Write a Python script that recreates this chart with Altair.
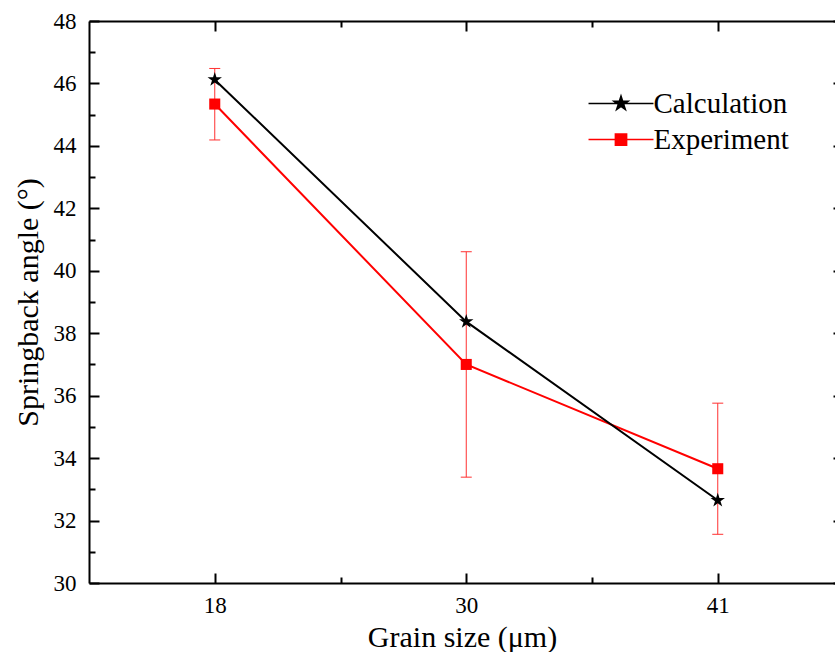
import altair as alt
import pandas as pd

# ---- data ----
grain_labels = ["18", "30", "41"]
positions = [1, 2, 3]
calculation = [46.12, 38.37, 32.65]
experiment = [45.34, 37.00, 33.66]
exp_low = [44.19, 33.39, 31.56]
exp_high = [46.48, 40.61, 35.76]
series_names = ["Calculation", "Experiment"]
series_colors = ["#000000", "#ff0000"]

y_major = [30, 32, 34, 36, 38, 40, 42, 44, 46, 48]
y_minor = [31, 33, 35, 37, 39, 41, 43, 45, 47]
x_minor = [1.5, 2.5]

df = pd.DataFrame({
    "pos": positions,
    "grain": grain_labels,
    "calc": calculation,
    "exp": experiment,
    "low": exp_low,
    "high": exp_high,
})
legend_df = pd.DataFrame({"series": series_names})

W, H = 746, 562
STEP = 251.5
xs = alt.Scale(domain=[0.5, 0.5 + W / STEP], nice=False, zero=False)
ys = alt.Scale(domain=[30, 48], nice=False, zero=False)

label_expr = " : ".join(
    f"datum.value == {p} ? '{g}'" for p, g in zip(positions, grain_labels)
) + " : ''"

FONT = "Liberation Serif"

STAR = ("M0,-1L0.2245,-0.309L0.9511,-0.309L0.3633,0.118L0.5878,0.809"
        "L0,0.382L-0.5878,0.809L-0.3633,0.118L-0.9511,-0.309L-0.2245,-0.309Z")
SQUARE = "M-0.85,-0.85L0.85,-0.85L0.85,0.85L-0.85,0.85Z"
LEG_STAR = "M-4.33,0L4.33,0" + STAR
LEG_SQUARE = "M-4.33,0L4.33,0M-0.75,-0.75L0.75,-0.75L0.75,0.75L-0.75,0.75Z"

# ---- axes ----
lab = dict(labelFont=FONT, labelFontSize=23, labelColor="black")
ttl = dict(titleFont=FONT, titleFontSize=30, titleFontWeight="normal", titleColor="black")

ax_x_main = alt.Axis(orient="bottom", values=positions, labelExpr=label_expr,
                     offset=-10, tickSize=10, domain=False, labelPadding=11,
                     title="Grain size (μm)", titlePadding=5, **lab, **ttl)
ax_y_main = alt.Axis(orient="left", values=y_major, format="d", offset=-10,
                     tickSize=10, domain=False, labelPadding=13,
                     title="Springback angle (°)", titlePadding=10, **lab, **ttl)
ax_x_dom = alt.Axis(orient="bottom", domain=True, ticks=False, labels=False, title=None)
ax_y_dom = alt.Axis(orient="left", domain=True, ticks=False, labels=False, title=None)
ax_x_minor = alt.Axis(orient="bottom", values=x_minor, offset=-6, tickSize=6,
                      domain=False, labels=False, title=None)
ax_y_minor = alt.Axis(orient="left", values=y_minor, offset=-6, tickSize=6,
                      domain=False, labels=False, title=None)
ax_x_top_dom = alt.Axis(orient="top", domain=True, ticks=False, labels=False, title=None)
ax_y_right = alt.Axis(orient="right", values=y_major, offset=-2, tickSize=2,
                      domain=False, labels=False, title=None)
ax_x_top = alt.Axis(orient="top", values=positions, offset=-10, tickSize=10,
                    domain=False, labels=False, title=None)
ax_x_top_minor = alt.Axis(orient="top", values=x_minor, offset=-6, tickSize=6,
                          domain=False, labels=False, title=None)

base = alt.Chart(df)

err_rule = base.mark_rule(color="#ff3030", strokeWidth=1).encode(
    x=alt.X("pos:Q", scale=xs, axis=ax_x_main),
    y=alt.Y("low:Q", scale=ys, axis=ax_y_main),
    y2="high:Q",
)
cap_low = base.mark_tick(orient="horizontal", size=11, thickness=1,
                         color="#ff3030", opacity=1).encode(
    x=alt.X("pos:Q", scale=xs, axis=ax_x_dom),
    y=alt.Y("low:Q", scale=ys, axis=ax_y_dom),
)
cap_high = base.mark_tick(orient="horizontal", size=11, thickness=1,
                          color="#ff3030", opacity=1).encode(
    x=alt.X("pos:Q", scale=xs, axis=ax_x_minor),
    y=alt.Y("high:Q", scale=ys, axis=ax_y_minor),
)
exp_line = base.mark_line(color="#ff0000", strokeWidth=2).encode(
    x=alt.X("pos:Q", scale=xs, axis=ax_x_top_dom),
    y=alt.Y("exp:Q", scale=ys, axis=ax_y_right),
)
calc_line = base.mark_line(color="#000000", strokeWidth=2).encode(
    x=alt.X("pos:Q", scale=xs, axis=ax_x_top),
    y=alt.Y("calc:Q", scale=ys, axis=None),
)
exp_pts = base.mark_point(shape=SQUARE, filled=True, size=169, color="#ff0000",
                          opacity=1).encode(
    x=alt.X("pos:Q", scale=xs, axis=ax_x_top_minor),
    y=alt.Y("exp:Q", scale=ys, axis=None),
)
calc_pts = base.mark_point(shape=STAR, filled=True, size=230, color="#000000",
                           opacity=1).encode(
    x=alt.X("pos:Q", scale=xs, axis=None),
    y=alt.Y("calc:Q", scale=ys, axis=None),
)

leg = alt.Legend(orient="none", legendX=517.5, legendY=68, title=None,
                 labelFont=FONT, labelFontSize=29, labelColor="black",
                 labelExpr="datum.label == 'Experiment' ? '\u00a0Experiment' : datum.label",
                 labelOffset=18, rowPadding=6, symbolSize=225,
                 symbolStrokeWidth=1.5, symbolOpacity=1, padding=0)
legend_layer = alt.Chart(legend_df).transform_filter("false").mark_point(
    filled=True, size=225, opacity=1, strokeWidth=1.5
).encode(
    shape=alt.Shape("series:N", scale=alt.Scale(domain=series_names,
                                                range=[LEG_STAR, LEG_SQUARE]), legend=leg),
    fill=alt.Fill("series:N", scale=alt.Scale(domain=series_names,
                                              range=series_colors), legend=leg),
    stroke=alt.Stroke("series:N", scale=alt.Scale(domain=series_names,
                                                  range=series_colors), legend=leg),
)

chart = alt.layer(
    err_rule, cap_low, cap_high, exp_line, calc_line, exp_pts, calc_pts, legend_layer
).resolve_axis(
    x="independent", y="independent"
).properties(
    width=W, height=H,
    padding={"left": 89, "top": 21, "right": 0, "bottom": 69},
    autosize=alt.AutoSizeParams(type="none"),
    background="white",
).configure(
    font=FONT
).configure_view(
    strokeWidth=0
).configure_axis(
    grid=False, domainColor="black", domainWidth=2, tickColor="black", tickWidth=2,
    labelColor="black", labelFont=FONT, labelFontSize=23,
    titleFont=FONT, titleFontSize=30, titleFontWeight="normal", titleColor="black",
)

chart.save("out.html", embed_options={"renderer": "svg", "actions": False})
